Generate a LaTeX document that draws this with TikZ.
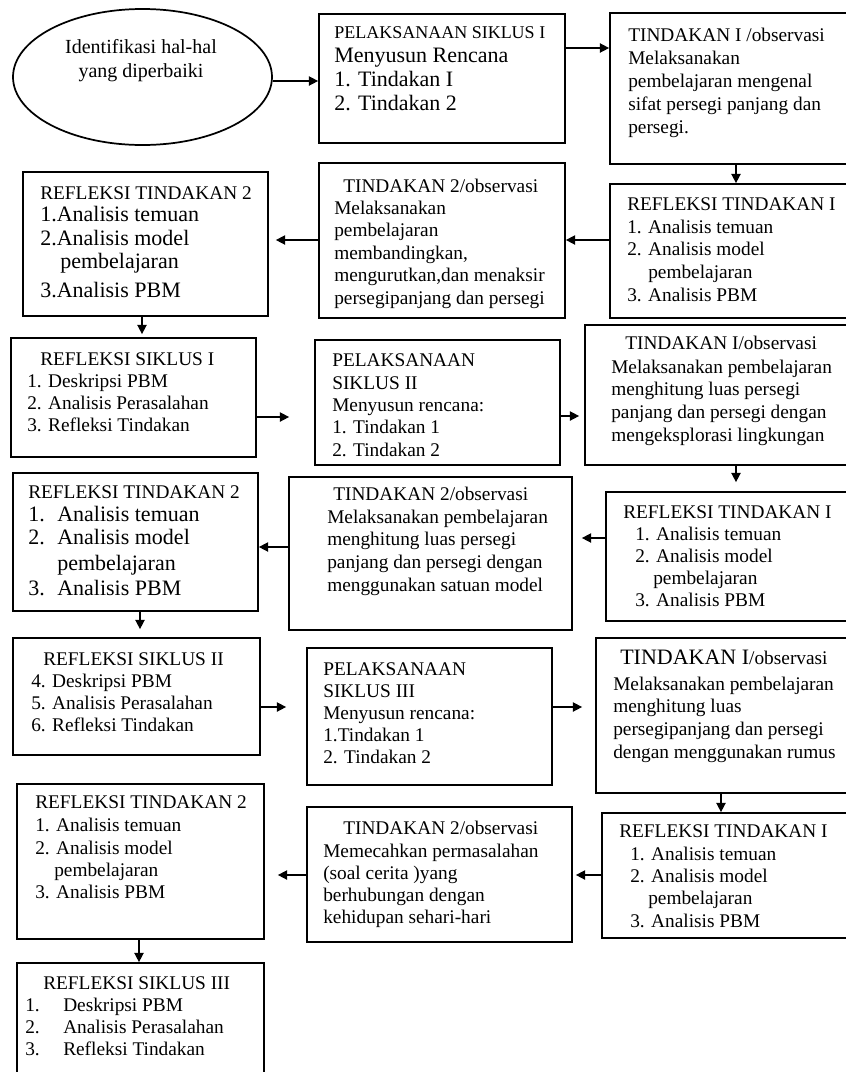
\documentclass[tikz,border=0pt]{standalone}
\usepackage{fontspec}
\setmainfont{Liberation Serif}
\usetikzlibrary{fit,arrows.meta,shapes.geometric}
\newcommand\fz[1]{\fontsize{14.5pt}{#1}\selectfont}
\newcommand\bigf{\fontsize{16.5pt}{18pt}\selectfont}
\tikzset{
  box/.style={draw=black, line width=1.3pt, rectangle, inner sep=0pt},
  txt/.style={anchor=base west, inner sep=0pt, align=left, text=black},
  arr/.style={-{Triangle[length=7pt,width=7pt]}, line width=1.1pt, draw=black}
}
\begin{document}
\begin{tikzpicture}[x=0.75pt,y=-0.75pt]
\useasboundingbox[fill=white] (0,0) rectangle (846,1072);

% ---- boxes ----
\node[ellipse, draw=black, line width=1.3pt, minimum width=194.25pt, minimum height=102pt, inner sep=0pt] (el) at (142.5,77) {};
\node[box, fit={(319,14) (565,143)}] (p1) {};
\node[box, fit={(610,13) (880,164)}] (t1) {};
\node[box, fit={(610,184) (880,318)}] (r1) {};
\node[box, fit={(319,163) (565,318)}] (t2) {};
\node[box, fit={(23,172) (268,316)}] (r2) {};
\node[box, fit={(11,338) (256,457)}] (rs1) {};
\node[box, fit={(315,340) (560,465)}] (p2) {};
\node[box, fit={(585,325) (880,465)}] (ti2) {};
\node[box, fit={(606,492) (880,621)}] (ri2) {};
\node[box, fit={(289,477) (572,630)}] (t22) {};
\node[box, fit={(13,473) (258,611)}] (r22) {};
\node[box, fit={(13,638) (260,755)}] (rs2) {};
\node[box, fit={(307,648) (552,785)}] (p3) {};
\node[box, fit={(596,638) (880,793)}] (ti3) {};
\node[box, fit={(602,813) (880,938)}] (ri3) {};
\node[box, fit={(307,807) (572,942)}] (t23) {};
\node[box, fit={(17,784) (264,939)}] (r23) {};
\node[box, fit={(17,963) (264,1100)}] (rs3) {};

% ---- texts (anchored at the baseline of their last line) ----
\node[anchor=base, inner sep=0pt, align=center, font=\fontsize{15pt}{18pt}\selectfont] (elx) at (141,77) {Identifikasi hal-hal\\yang diperbaiki};

\node[txt, font={\fz{18pt}}] (p1x) at (334,110) {{\fontsize{13.5pt}{18pt}\selectfont PELAKSANAAN SIKLUS I}\\{\bigf Menyusun Rencana}\\{\bigf 1. Tindakan I}\\{\bigf 2. Tindakan 2}};

\node[txt, font={\fz{17.25pt}}] (t1x) at (628,133) {TINDAKAN I /observasi\\Melaksanakan\\pembelajaran mengenal\\sifat persegi panjang dan\\persegi.};

\node[txt, font={\fz{16.9pt}}] (r1x) at (627,301) {REFLEKSI TINDAKAN I\\1. Analisis temuan\\2. Analisis model\\\hspace*{15.75pt}pembelajaran\\3. Analisis PBM};

\node[txt, font={\fz{16.8pt}}] (t2x) at (334,304) {\hspace*{6.75pt}TINDAKAN 2/observasi\\Melaksanakan\\pembelajaran\\membandingkan,\\mengurutkan,dan menaksir\\persegipanjang dan persegi};

\node[txt, font={\fz{16.5pt}}] (r2x) at (40,297) {REFLEKSI TINDAKAN 2\\{\bigf 1.Analisis temuan}\\[1.5pt]{\bigf 2.Analisis model}\\[0.75pt]\hspace*{15pt}{\bigf pembelajaran}\\[5.25pt]{\bigf 3.Analisis PBM}};

\node[txt, font={\fz{16.5pt}}] (rs1x) at (27,431) {\hspace*{9.75pt}REFLEKSI SIKLUS I\\1. Deskripsi PBM\\2. Analisis Perasalahan\\3. Refleksi Tindakan};

\node[txt, font={\fz{16.7pt}}] (p2x) at (332,456) {PELAKSANAAN\\SIKLUS II\\Menyusun rencana:\\1. Tindakan 1\\2. Tindakan 2};

\node[txt, font={\fz{16.9pt}}] (ti2x) at (611,441) {\hspace*{10.5pt}TINDAKAN I/observasi\\[1pt]Melaksanakan pembelajaran\\menghitung luas persegi\\panjang dan persegi dengan\\mengeksplorasi lingkungan};

\node[txt, font={\fz{16.5pt}}] (ri2x) at (623,606) {REFLEKSI TINDAKAN I\\\hspace*{9pt}1. Analisis temuan\\\hspace*{9pt}2. Analisis model\\\hspace*{22.5pt}pembelajaran\\\hspace*{9pt}3. Analisis PBM};

\node[txt, font={\fz{17pt}}] (t22x) at (327,591) {\hspace*{4.5pt}TINDAKAN 2/observasi\\Melaksanakan pembelajaran\\menghitung luas persegi\\panjang dan persegi dengan\\menggunakan satuan model};

\node[txt, font={\fz{17.25pt}}] (r22x) at (28,595) {REFLEKSI TINDAKAN 2\\{\bigf\makebox[21.75pt][l]{1.}Analisis temuan}\\{\bigf\makebox[21.75pt][l]{2.}Analisis model}\\[2.25pt]\hspace*{21.75pt}{\bigf pembelajaran}\\[1.5pt]{\bigf\makebox[21.75pt][l]{3.}Analisis PBM}};

\node[txt, font={\fz{16.5pt}}] (rs2x) at (31,731) {\hspace*{9pt}REFLEKSI SIKLUS II\\4. Deskripsi PBM\\5. Analisis Perasalahan\\6. Refleksi Tindakan};

\node[txt, font={\fz{16.5pt}}] (p3x) at (323,763) {PELAKSANAAN\\SIKLUS III\\Menyusun rencana:\\1.Tindakan 1\\2. Tindakan 2};

\node[txt, font={\fz{16.9pt}}] (ti3x) at (613,758) {\hspace*{5.25pt}{\bigf TINDAKAN I}/observasi\\[2.6pt]Melaksanakan pembelajaran\\menghitung luas\\persegipanjang dan persegi\\dengan menggunakan rumus};

\node[txt, font={\fz{16.7pt}}] (ri3x) at (619,927) {REFLEKSI TINDAKAN I\\\hspace*{8.25pt}1. Analisis temuan\\\hspace*{8.25pt}2. Analisis model\\\hspace*{21.75pt}pembelajaran\\\hspace*{8.25pt}3. Analisis PBM};

\node[txt, font={\fz{16.5pt}}] (t23x) at (323,923) {\hspace*{15pt}TINDAKAN 2/observasi\\[0.75pt]Memecahkan permasalahan\\(soal cerita )yang\\berhubungan dengan\\kehidupan sehari-hari};

\node[txt, font={\fz{16.5pt}}] (r23x) at (35,898) {REFLEKSI TINDAKAN 2\\[0.75pt]1. Analisis temuan\\[0.75pt]2. Analisis model\\\hspace*{14.25pt}pembelajaran\\3. Analisis PBM};

\node[txt, font={\fz{16.5pt}}] (rs3x) at (25,1055) {\hspace*{13.5pt}REFLEKSI SIKLUS III\\\makebox[28.5pt][l]{1.}Deskripsi PBM\\\makebox[28.5pt][l]{2.}Analisis Perasalahan\\\makebox[28.5pt][l]{3.}Refleksi Tindakan};

% ---- connectors ----
\draw[arr] (el.east |- 0,81) -- (p1.west |- 0,81);
\draw[arr] (p1.east |- 0,48) -- (t1.west |- 0,48);
\draw[arr] (t1.south -| 736,0) -- (r1.north -| 736,0);
\draw[arr] (r1.west |- 0,240) -- (t2.east |- 0,240);
\draw[arr, shorten >=5.25pt] (t2.west |- 0,240) -- (r2.east |- 0,240);
\draw[arr, shorten >=2.25pt] (r2.south -| 142,0) -- (rs1.north -| 142,0);
\draw[arr, shorten >=18.75pt] (rs1.east |- 0,417) -- (p2.west |- 0,417);
\draw[arr, shorten >=3.75pt] (p2.east |- 0,416) -- (ti2.west |- 0,416);
\draw[arr, shorten >=6.75pt] (ti2.south -| 736,0) -- (ri2.north -| 736,0);
\draw[arr, shorten >=6.75pt] (ri2.west |- 0,538) -- (t22.east |- 0,538);
\draw[arr] (t22.west |- 0,547) -- (r22.east |- 0,547);
\draw[arr, shorten >=6pt] (r22.south -| 140,0) -- (rs2.north -| 140,0);
\draw[arr, shorten >=15pt] (rs2.east |- 0,707) -- (p3.west |- 0,707);
\draw[arr, shorten >=9.75pt] (p3.east |- 0,707) -- (ti3.west |- 0,707);
\draw[arr] (ti3.south -| 721,0) -- (ri3.north -| 721,0);
\draw[arr, shorten >=2.25pt] (ri3.west |- 0,875) -- (t23.east |- 0,875);
\draw[arr, shorten >=9.75pt] (t23.west |- 0,875) -- (r23.east |- 0,875);
\draw[arr] (r23.south -| 139,0) -- (rs3.north -| 139,0);
\end{tikzpicture}
\end{document}
